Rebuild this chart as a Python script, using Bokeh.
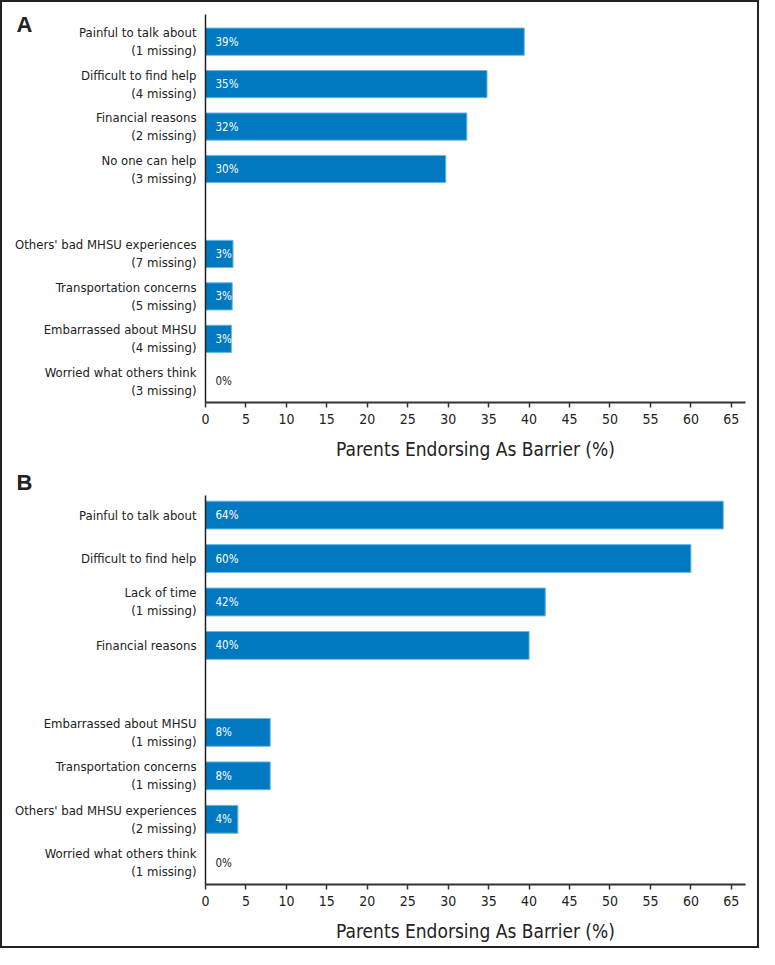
from bokeh.plotting import figure
from bokeh.models import Range1d, FixedTicker, ColumnDataSource, Title
from bokeh.layouts import column
from bokeh.core.properties import value
from bokeh.embed import file_html
from bokeh.resources import INLINE

# ---- data ----
cats_a = ["Painful to talk about\n(1 missing)", "Difficult to find help\n(4 missing)",
          "Financial reasons\n(2 missing)", "No one can help\n(3 missing)", None,
          "Others' bad MHSU experiences\n(7 missing)", "Transportation concerns\n(5 missing)",
          "Embarrassed about MHSU\n(4 missing)", "Worried what others think\n(3 missing)"]
vals_a = [39.4, 34.8, 32.3, 29.7, None, 3.4, 3.3, 3.2, 0.0]

cats_b = ["Painful to talk about", "Difficult to find help", "Lack of time\n(1 missing)",
          "Financial reasons", None, "Embarrassed about MHSU\n(1 missing)",
          "Transportation concerns\n(1 missing)", "Others' bad MHSU experiences\n(2 missing)",
          "Worried what others think\n(1 missing)"]
vals_b = [64.0, 60.0, 42.0, 40.0, None, 8.0, 8.0, 4.0, 0.0]

x_ticks = list(range(0, 70, 5))
x_title = "Parents Endorsing As Barrier (%)"

FONT = "DejaVu Sans Condensed, Liberation Sans Narrow, sans-serif"
BAR = "#0079C1"
INK = "#222222"


def panel(cats, vals, letter, height, top, bottom, ytop, standoff):
    p = figure(width=755, height=height, output_backend="svg", toolbar_location=None,
               x_range=Range1d(0, 66.75), y_range=Range1d(8.5, ytop),
               min_border_left=203, min_border_right=12,
               min_border_top=top, min_border_bottom=bottom)
    p.outline_line_color = None
    p.grid.visible = False
    idx = [i for i, c in enumerate(cats) if c is not None]
    src = ColumnDataSource(dict(
        y=idx,
        v=[vals[i] for i in idx],
        lab=[f"{round(vals[i])}%" for i in idx],
        col=["white" if vals[i] > 0 else INK for i in idx],
        x0=[0] * len(idx)))
    p.hbar(y="y", left=0, right="v", height=0.64, source=src,
           fill_color=BAR, line_color="#6bb6e4", line_width=1)
    p.text(x="x0", y="y", text="lab", source=src, x_offset=10,
           text_align="left", text_baseline="middle", text_color="col",
           text_font=value(FONT), text_font_size="11.5px")

    ya = p.yaxis[0]
    ya.ticker = FixedTicker(ticks=idx)
    ya.major_label_overrides = {i: cats[i] for i in idx}
    ya.major_tick_out = 0
    ya.major_tick_in = 0
    ya.minor_tick_out = 0
    ya.minor_tick_in = 0
    ya.major_label_standoff = 9
    ya.major_label_text_font = FONT
    ya.major_label_text_font_size = "13px"
    ya.major_label_text_color = INK
    ya.axis_line_color = INK
    ya.axis_line_width = 1.5

    xa = p.xaxis[0]
    xa.ticker = FixedTicker(ticks=x_ticks)
    xa.major_tick_out = 5
    xa.major_tick_in = 0
    xa.minor_tick_out = 0
    xa.minor_tick_in = 0
    xa.major_label_standoff = 6
    xa.major_label_text_font = FONT
    xa.major_label_text_font_size = "14px"
    xa.major_label_text_color = INK
    xa.axis_line_color = "#333333"
    xa.axis_line_width = 2
    xa.major_tick_line_color = "#333333"
    xa.major_tick_line_width = 1.5
    xa.axis_label = x_title
    xa.axis_label_text_font = FONT
    xa.axis_label_text_font_size = "19px"
    xa.axis_label_text_font_style = "normal"
    xa.axis_label_text_color = INK
    xa.axis_label_standoff = 11

    p.add_layout(Title(text=letter, align="left", offset=-189, standoff=standoff,
                       text_font="Liberation Sans", text_font_style="bold",
                       text_font_size="22px", text_color=INK), "above")
    return p


pa = panel(cats_a, vals_a, "A", 464, 12, 64, -0.64, -44)
pb = panel(cats_b, vals_b, "B", 480, 0, 62, -0.45, 2)

layout = column(pa, pb, spacing=0, styles={"border": "2px solid #222222"})

open("out.html", "w").write(file_html(layout, INLINE))
